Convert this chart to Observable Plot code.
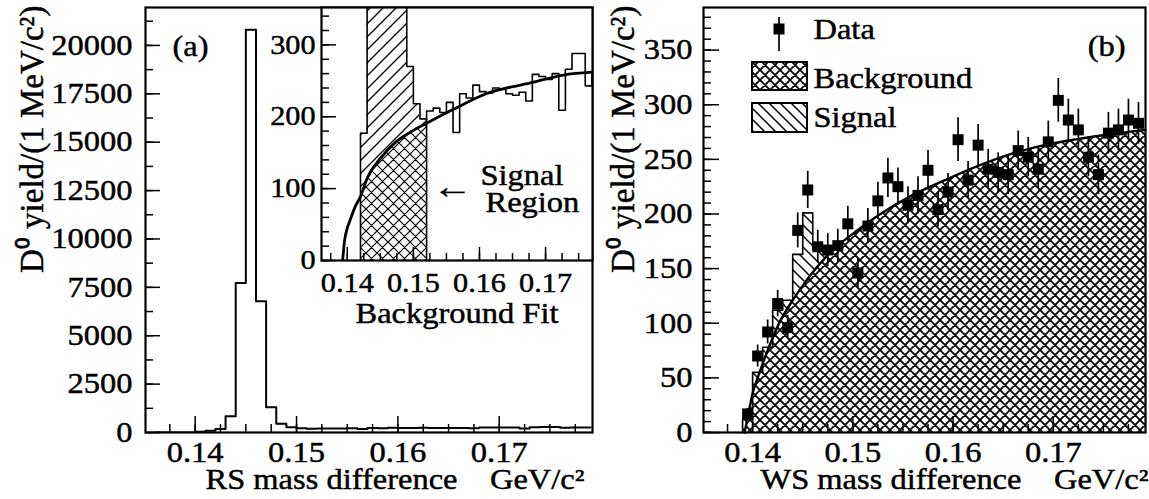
<!DOCTYPE html>
<html>
<head>
<meta charset="utf-8">
<title>D0 yield vs D*-D0 mass difference</title>
<script src="https://cdn.jsdelivr.net/npm/d3@7"></script>
<script src="https://cdn.jsdelivr.net/npm/@observablehq/plot@0.6"></script>
<style>
  html, body { margin: 0; padding: 0; background: #fff; }
  #figure { position: relative; width: 1149px; height: 499px; overflow: hidden; background: #fff; }
  #figure > svg { position: absolute; top: 0; }
  #figure svg text { stroke: #000; stroke-width: 0.45px; }
</style>
</head>
<body>
<div id="figure"></div>
<script>
// ---------------- data ----------------
// Right-sign (RS) mass-difference spectrum, 1 MeV bins (low edge in GeV/c^2)
const rsBinLow = [0.136, 0.137, 0.138, 0.139, 0.140, 0.141, 0.142, 0.143, 0.144, 0.145,
                  0.146, 0.147, 0.148, 0.149, 0.150, 0.151, 0.152, 0.153, 0.154, 0.155,
                  0.156, 0.157, 0.158, 0.159, 0.160, 0.161, 0.162, 0.163, 0.164, 0.165,
                  0.166, 0.167, 0.168, 0.169, 0.170, 0.171, 0.172, 0.173, 0.174, 0.175,
                  0.176, 0.177, 0.178];
const rsCounts = [0, 0, 0, 5, 40, 95, 177, 840, 7730, 20810,
                  6780, 1300, 450, 270, 218, 197, 208, 212, 206, 220,
                  178, 232, 226, 244, 235, 233, 240, 238, 232, 230,
                  234, 222, 259, 256, 252, 260, 209, 266, 288, 288,
                  243, 262, 260];
const binWidth = 0.001;

// Background fit to the RS spectrum (inset)
const rsFitX = [0.1393, 0.1396, 0.1400, 0.1405, 0.1412, 0.1420, 0.1430, 0.1450, 0.1475,
                0.1500, 0.1520, 0.1560, 0.1610, 0.1677, 0.1727, 0.1771];
const rsFitY = [0, 28, 45, 58, 75, 89, 114, 142, 166, 181, 191, 210, 232, 247, 258, 262];

// Signal region of the RS fit
const signalLow = 0.142;
const signalHigh = 0.152;

// Wrong-sign (WS) data points at bin centres, with errors
const wsX = [0.1395, 0.1405, 0.1415, 0.1425, 0.1435, 0.1445, 0.1455, 0.1465, 0.1475, 0.1485,
             0.1495, 0.1505, 0.1515, 0.1525, 0.1535, 0.1545, 0.1555, 0.1565, 0.1575, 0.1585,
             0.1595, 0.1605, 0.1615, 0.1625, 0.1635, 0.1645, 0.1655, 0.1665, 0.1675, 0.1685,
             0.1695, 0.1705, 0.1715, 0.1725, 0.1735, 0.1745, 0.1755, 0.1765, 0.1775, 0.1785];
const wsY = [17, 70, 92, 118, 96, 185, 222, 170, 167, 171,
             191, 146, 189, 212, 233, 225, 208, 217, 240, 204,
             220, 268, 231, 263, 241, 238, 236, 258, 252, 241,
             266, 304, 286, 277, 252, 236, 274, 277, 286, 283];
const wsErr = [5, 10, 11, 12, 11, 16, 17, 15, 15, 15,
               16, 14, 16, 17, 18, 17, 17, 17, 18, 16,
               17, 20, 17, 19, 18, 18, 18, 18, 18, 18,
               19, 20, 19, 19, 18, 18, 19, 19, 19, 19];

// WS fit: signal + background histogram near threshold
const wsTotalLow = [0.139, 0.140, 0.141, 0.142, 0.143, 0.144, 0.145, 0.146, 0.147];
const wsTotal = [12, 55, 78, 112, 121, 163, 201, 168, 166];

// WS background shape
const wsBkgX = [0.1392, 0.1396, 0.1400, 0.1405, 0.1415, 0.1427, 0.1440, 0.1456, 0.1480, 0.1503,
                0.1526, 0.1559, 0.1592, 0.1625, 0.1658, 0.1691, 0.1724, 0.1757, 0.1792];
const wsBkgY = [0, 18, 36, 50, 75, 101, 121, 142, 167, 184,
                199, 217, 231, 244, 255, 263, 268.5, 273, 277];

// Axis ticks
const massTicks = [0.14, 0.15, 0.16, 0.17];
const rsYTicks = [0, 2500, 5000, 7500, 10000, 12500, 15000, 17500, 20000];
const insetYTicks = [0, 100, 200, 300];
const wsYTicks = [0, 50, 100, 150, 200, 250, 300, 350];

// ---------------- helpers ----------------
const FONT = "'Liberation Serif', 'Times New Roman', serif";
const STRETCH = 1.12;               // glyph widening of the typeset labels
const fixedWidths = {"\u2190": 40}; // glyphs given an explicit advance

// histogram bins -> points for a step-after curve
function stepPoints(lows, vals, {fromZero = true, toZero = false} = {}) {
  const pts = [];
  if (fromZero) pts.push({x: lows[0], y: 0});
  lows.forEach((x, i) => pts.push({x, y: vals[i]}));
  const end = lows[lows.length - 1] + binWidth;
  pts.push({x: end, y: vals[vals.length - 1]});
  if (toZero) pts.push({x: end, y: 0});
  return pts;
}
const zip = (xs, ys) => xs.map((x, i) => ({x, y: ys[i]}));

// short inward tick marks drawn as rules inset from the far side of the frame
function ticksLeft(values, len, frameW) {
  return Plot.ruleY(values, {y: d => d, insetRight: frameW - len, strokeWidth: 1.5});
}
function ticksBottom(values, len, frameH) {
  return Plot.ruleX(values, {x: d => d, insetTop: frameH - len, strokeWidth: 1.5});
}
const rangeStep = (a, b, s) => d3.range(Math.ceil(a / s - 1e-9), Math.floor(b / s + 1e-9) + 1).map(k => +(k * s).toFixed(6));

// a piece of text placed relative to the frame, centred on its line
function label(str, frameAnchor, dx, dy, extra = {}) {
  return Plot.text([str], {text: d => d, frameAnchor, dx, dy, lineAnchor: "middle", textAnchor: "start", ...extra});
}

// hatch patterns
function crossPattern(id, s, w) {
  return `<pattern id="${id}" patternUnits="userSpaceOnUse" width="${s}" height="${s}">
    <path d="M0,0L${s},${s}M${s},0L0,${s}M-2,2L2,-2M${s-2},${s+2}L${s+2},${s-2}M${s-2},-2L${s+2},2M-2,${s-2}L2,${s+2}"
      stroke="black" stroke-width="${w}" fill="none"/></pattern>`;
}
function forwardPattern(id, s, w) {
  return `<pattern id="${id}" patternUnits="userSpaceOnUse" width="${s}" height="${s}">
    <path d="M0,${s}L${s},0M-2,2L2,-2M${s-2},${s+2}L${s+2},${s-2}"
      stroke="black" stroke-width="${w}" fill="none"/></pattern>`;
}
function backPattern(id, s, w) {
  return `<pattern id="${id}" patternUnits="userSpaceOnUse" width="${s}" height="${s}">
    <path d="M0,0L${s},${s}M${s-2},-2L${s+2},2M-2,${s-2}L2,${s+2}"
      stroke="black" stroke-width="${w}" fill="none"/></pattern>`;
}

const figure = document.getElementById("figure");
figure.insertAdjacentHTML("beforeend",
  `<svg width="0" height="0" aria-hidden="true"><defs>
    ${crossPattern("xhatchA", 11, 1.2)}
    ${crossPattern("xhatchB", 10, 1.7)}
    ${forwardPattern("fhatchA", 13, 1.3)}
    ${backPattern("bhatchB", 11, 1.5)}
  </defs></svg>`);

function styleFor(size) {
  return `font-family: ${FONT}; font-size: ${size}px; background: transparent; color: black; overflow: visible;`;
}

// widen typeset text horizontally, keeping its anchor (rotated titles are left alone)
function widen(svg) {
  svg.querySelectorAll("text").forEach(t => {
    if ((t.getAttribute("transform") || "").includes("rotate")) return;
    const w = t.getComputedTextLength();
    if (!(w > 0)) return;
    const target = fixedWidths[t.textContent.trim()] ?? w * STRETCH;
    const anchor = getComputedStyle(t).textAnchor;
    const f = anchor === "middle" ? 0.5 : anchor === "end" ? 1 : 0;
    const box = t.getBBox();
    t.setAttribute("x", (box.x - (target - w) * f).toFixed(2));
    t.style.textAnchor = "start";
    t.setAttribute("textLength", target.toFixed(2));
    t.setAttribute("lengthAdjust", "spacingAndGlyphs");
  });
}

function place(svg, left) {
  svg.style.left = left + "px";
  figure.appendChild(svg);
  widen(svg);
  return svg;
}

const massDomain = [0.1351, 0.1792];
const yTitle = "D\u2070 yield/(1 MeV/c\u00b2)";
const gap = "\u00a0\u00a0\u00a0\u00a0";

// ---------------- panel (a): RS spectrum ----------------
{
  const W = 600, H = 499, mL = 145, mR = 8, mT = 7, mB = 67;
  const fw = W - mL - mR, fh = H - mT - mB;
  const yDomain = [0, 21960];
  const svg = Plot.plot({
    width: W, height: H, marginLeft: mL, marginRight: mR, marginTop: mT, marginBottom: mB,
    x: {domain: massDomain}, y: {domain: yDomain},
    style: styleFor(29),
    marks: [
      Plot.line(stepPoints(rsBinLow, rsCounts), {x: "x", y: "y", curve: "step-after", strokeWidth: 2, clip: true}),
      ticksLeft(rangeStep(0, yDomain[1], 1250), 8, fw),
      ticksLeft(rsYTicks, 15, fw),
      ticksBottom(rangeStep(massDomain[0], massDomain[1], 0.0025), 8, fh),
      ticksBottom(massTicks, 16, fh),
      Plot.frame({strokeWidth: 2.2}),
      Plot.axisY({ticks: rsYTicks, tickSize: 0, tickPadding: 13, tickFormat: d3.format("d"), label: null, fontSize: 29}),
      Plot.axisX({ticks: massTicks, tickSize: 0, tickPadding: 9, tickFormat: d3.format(".2f"), label: null, fontSize: 29}),
      label("(a)", "top-left", 27, 39),
      label(yTitle, "top-left", -113, -2, {rotate: -90, textAnchor: "end", fontSize: 33}),
      label("RS mass difference" + gap + "GeV/c\u00b2", "bottom-left", 60, 47)
    ]
  });
  place(svg, 0);
}

// ---------------- inset: RS background fit ----------------
{
  const W = 300, H = 340, mL = 21, mR = 8, mT = 7, mB = 80;
  const fw = W - mL - mR, fh = H - mT - mB;
  const xDomain = [0.1361, 0.1771], yDomain = [0, 352];
  const iLow = rsBinLow.indexOf(signalLow), iHigh = rsBinLow.indexOf(signalHigh);
  const sigPts = stepPoints(rsBinLow.slice(iLow, iHigh), rsCounts.slice(iLow, iHigh), {toZero: true});
  const tailPts = stepPoints(rsBinLow.slice(iLow), rsCounts.slice(iLow));
  const fit = zip(rsFitX, rsFitY);
  const fitInSignal = fit.filter(d => d.x >= signalLow && d.x <= signalHigh);
  const svg = Plot.plot({
    width: W, height: H, marginLeft: mL, marginRight: mR, marginTop: mT, marginBottom: mB,
    x: {domain: xDomain}, y: {domain: yDomain},
    style: styleFor(27),
    marks: [
      Plot.frame({fill: "white"}),
      Plot.areaY(sigPts, {x: "x", y: "y", curve: "step-after", fill: "url(#fhatchA)", clip: true}),
      Plot.areaY(fitInSignal, {x: "x", y: "y", curve: "monotone-x", fill: "white"}),
      Plot.areaY(fitInSignal, {x: "x", y: "y", curve: "monotone-x", fill: "url(#xhatchA)"}),
      Plot.line(tailPts, {x: "x", y: "y", curve: "step-after", strokeWidth: 1.6, clip: true}),
      Plot.ruleX([signalHigh], {x: d => d, y1: 0, y2: rsCounts[iHigh - 1], strokeWidth: 1.6}),
      Plot.line(fit, {x: "x", y: "y", curve: "monotone-x", strokeWidth: 2.8, clip: true}),
      ticksLeft(rangeStep(0, yDomain[1], 20), 8, fw),
      ticksLeft(insetYTicks, 15, fw),
      ticksBottom(rangeStep(xDomain[0], xDomain[1], 0.0025), 7, fh),
      ticksBottom(massTicks, 13, fh),
      Plot.frame({strokeWidth: 2.2}),
      Plot.axisY({ticks: insetYTicks, tickSize: 0, tickPadding: 6, tickFormat: d3.format("d"), label: null, fontSize: 27}),
      Plot.axisX({ticks: massTicks, tickSize: 0, tickPadding: 12, tickFormat: d3.format(".2f"), label: null, fontSize: 27}),
      label("Background Fit", "bottom", 0, 53, {textAnchor: "middle", fontSize: 29}),
      label("\u2190", "top-left", 111, 180, {fontSize: 34}),
      label("Signal", "top-left", 159, 168, {fontSize: 29}),
      label("Region", "top-left", 164, 195, {fontSize: 29})
    ]
  });
  place(svg, 300);
}

// ---------------- panel (b): WS spectrum ----------------
{
  const W = 549, H = 499, mL = 103, mR = 4, mT = 7, mB = 67;
  const fw = W - mL - mR, fh = H - mT - mB;
  const yDomain = [0, 389];
  const ws = wsX.map((x, i) => ({x, y: wsY[i], e: wsErr[i]}));
  const total = stepPoints(wsTotalLow, wsTotal);
  const bkg = zip(wsBkgX, wsBkgY);
  const svg = Plot.plot({
    width: W, height: H, marginLeft: mL, marginRight: mR, marginTop: mT, marginBottom: mB,
    x: {domain: massDomain}, y: {domain: yDomain},
    style: styleFor(29),
    marks: [
      Plot.areaY(total, {x: "x", y: "y", curve: "step-after", fill: "url(#bhatchB)"}),
      Plot.areaY(bkg, {x: "x", y: "y", curve: "monotone-x", fill: "white"}),
      Plot.areaY(bkg, {x: "x", y: "y", curve: "monotone-x", fill: "url(#xhatchB)"}),
      Plot.line(total, {x: "x", y: "y", curve: "step-after", strokeWidth: 1.6}),
      Plot.line(bkg, {x: "x", y: "y", curve: "monotone-x", strokeWidth: 2.4}),
      ticksLeft(rangeStep(0, yDomain[1], 10), 8, fw),
      ticksLeft(wsYTicks, 16, fw),
      ticksBottom(rangeStep(massDomain[0], massDomain[1], 0.0025), 8, fh),
      ticksBottom(massTicks, 16, fh),
      Plot.frame({strokeWidth: 2.2}),
      Plot.ruleX(ws, {x: "x", y1: d => d.y - d.e, y2: d => d.y + d.e, strokeWidth: 1.7}),
      Plot.dot(ws, {x: "x", y: "y", symbol: "square", r: 6.2, fill: "black", stroke: "none"}),
      Plot.axisY({ticks: wsYTicks, tickSize: 0, tickPadding: 11, tickFormat: d3.format("d"), label: null, fontSize: 29}),
      Plot.axisX({ticks: massTicks, tickSize: 0, tickPadding: 9, tickFormat: d3.format(".2f"), label: null, fontSize: 29}),
      label("(b)", "top-right", -20, 39, {textAnchor: "end"}),
      label("Data", "top-left", 110, 22),
      label("Background", "top-left", 110, 71),
      label("Signal", "top-left", 110, 110),
      label(yTitle, "top-left", -80, -2, {rotate: -90, textAnchor: "end", fontSize: 33}),
      label("WS mass difference" + gap + "GeV/c\u00b2", "bottom-left", 57, 47)
    ]
  });
  // legend keys
  const key = d3.select(svg).append("g").attr("stroke", "black");
  key.append("line").attr("x1", 179).attr("x2", 179).attr("y1", 17).attr("y2", 51).attr("stroke-width", 1.7);
  key.append("rect").attr("x", 173.5).attr("y", 23.5).attr("width", 11).attr("height", 11).attr("fill", "black").attr("stroke", "none");
  key.append("rect").attr("x", 152).attr("y", 62).attr("width", 55).attr("height", 28).attr("fill", "url(#xhatchB)").attr("stroke-width", 2);
  key.append("rect").attr("x", 152).attr("y", 103).attr("width", 55).attr("height", 29).attr("fill", "url(#bhatchB)").attr("stroke-width", 2);
  place(svg, 600);
}
</script>
</body>
</html>
